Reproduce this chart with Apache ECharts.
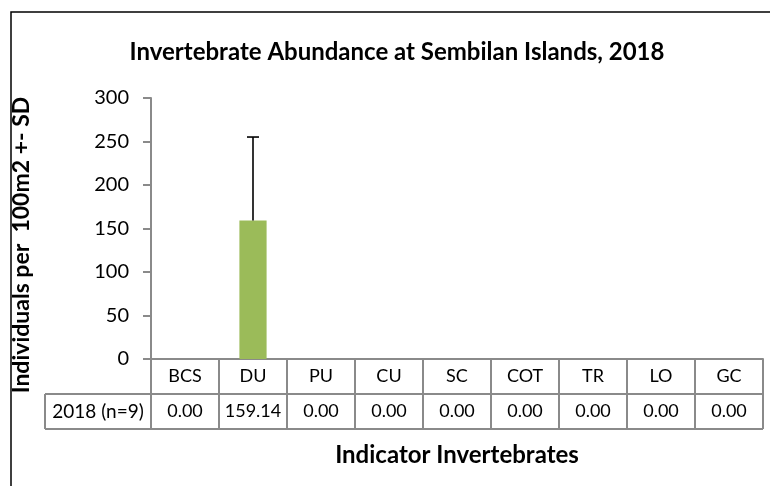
<!DOCTYPE html>
<html>
<head>
<meta charset="utf-8">
<script src="https://cdn.jsdelivr.net/npm/echarts@6/dist/echarts.min.js"></script>
<style>
  html, body { margin: 0; padding: 0; background: #fff; }
  #chart { width: 770px; height: 486px; }
</style>
</head>
<body>
<div id="chart"></div>
<script>
// Indicator invertebrates surveyed, mean abundance and standard deviation
const categories = ['BCS', 'DU', 'PU', 'CU', 'SC', 'COT', 'TR', 'LO', 'GC'];
const means = [0, 159.14, 0, 0, 0, 0, 0, 0, 0];
const stdDevs = [0, 96, 0, 0, 0, 0, 0, 0, 0];
const seriesLabel = '2018 (n=9)';
const yTicks = { min: 0, max: 300, step: 50 };

const FONT = 'Lato';
const GRID = { left: 151, right: 7, top: 98, bottom: 127 };
const LINE_GRAY = '#8a8a8a';

const chart = echarts.init(document.getElementById('chart'));

const tableLeft = 45;
const tableRight = 770 - GRID.right;
const axisY = 486 - GRID.bottom;
const rowH = 35;

chart.setOption({
  animation: false,
  backgroundColor: '#fff',
  title: {
    text: 'Invertebrate Abundance at Sembilan Islands, 2018',
    left: 392, top: 35, textAlign: 'center',
    textStyle: { fontFamily: FONT, fontWeight: 'bold', fontSize: 24, color: '#000' }
  },
  grid: GRID,
  xAxis: {
    type: 'category',
    data: categories,
    axisLine: { lineStyle: { color: LINE_GRAY, width: 2 } },
    axisTick: { show: true, interval: 0, length: rowH * 2, lineStyle: { color: LINE_GRAY, width: 2 } },
    axisLabel: {
      margin: 0,
      interval: 0,
      formatter: (v, i) => `{c|${v}}\n{v|${means[i].toFixed(2)}}`,
      rich: {
        c: { fontFamily: FONT, fontSize: 18, color: '#000', lineHeight: rowH, height: rowH },
        v: { fontFamily: FONT, fontSize: 18, color: '#000', lineHeight: rowH, height: rowH }
      }
    },
    name: 'Indicator Invertebrates',
    nameLocation: 'middle',
    nameGap: 84,
    nameTextStyle: { fontFamily: FONT, fontWeight: 'bold', fontSize: 24, color: '#000' }
  },
  yAxis: {
    type: 'value',
    min: yTicks.min, max: yTicks.max, interval: yTicks.step,
    splitLine: { show: false },
    axisLine: { show: true, lineStyle: { color: LINE_GRAY, width: 2 } },
    axisTick: { show: true, length: 8, lineStyle: { color: LINE_GRAY, width: 2 } },
    axisLabel: { margin: 22, fontFamily: FONT, fontSize: 20, color: '#000' }
  },
  series: [
    {
      type: 'bar',
      data: means,
      barWidth: '40%',
      itemStyle: { color: '#9bbb59' }
    },
    {
      type: 'custom',
      data: means.map((m, i) => [i, m, m + stdDevs[i]]),
      z: 5,
      renderItem: (params, api) => {
        if (stdDevs[params.dataIndex] <= 0) return null;
        const base = api.coord([api.value(0), api.value(1)]);
        const top = api.coord([api.value(0), api.value(2)]);
        const cap = 6;
        const style = { stroke: '#000', lineWidth: 1.6 };
        return {
          type: 'group',
          children: [
            { type: 'line', shape: { x1: base[0], y1: base[1], x2: top[0], y2: top[1] }, style },
            { type: 'line', shape: { x1: top[0] - cap, y1: top[1], x2: top[0] + cap, y2: top[1] }, style }
          ]
        };
      }
    }
  ],
  graphic: [
    // chart frame
    { type: 'rect', shape: { x: 11, y: 12, width: 800, height: 520 },
      style: { fill: null, stroke: '#000', lineWidth: 1.5 }, silent: true },
    // data table rows
    { type: 'line', shape: { x1: tableLeft, y1: axisY + rowH, x2: tableRight, y2: axisY + rowH },
      style: { stroke: LINE_GRAY, lineWidth: 2 } },
    { type: 'line', shape: { x1: tableLeft, y1: axisY + rowH * 2, x2: tableRight, y2: axisY + rowH * 2 },
      style: { stroke: LINE_GRAY, lineWidth: 2 } },
    { type: 'line', shape: { x1: tableLeft, y1: axisY + rowH, x2: tableLeft, y2: axisY + rowH * 2 },
      style: { stroke: LINE_GRAY, lineWidth: 2 } },
    { type: 'text', x: (tableLeft + GRID.left) / 2, y: axisY + rowH * 1.5,
      style: { text: seriesLabel, fontFamily: FONT, fontSize: 19, fill: '#000', align: 'center', verticalAlign: 'middle' } },
    // vertical axis title
    { type: 'text', x: 22, y: 245, rotation: Math.PI / 2,
      style: { text: 'Individuals per  100m2 +- SD', fontFamily: FONT, fontWeight: 'bold', fontSize: 23,
        fill: '#000', align: 'center', verticalAlign: 'middle' } }
  ]
});
</script>
</body>
</html>
